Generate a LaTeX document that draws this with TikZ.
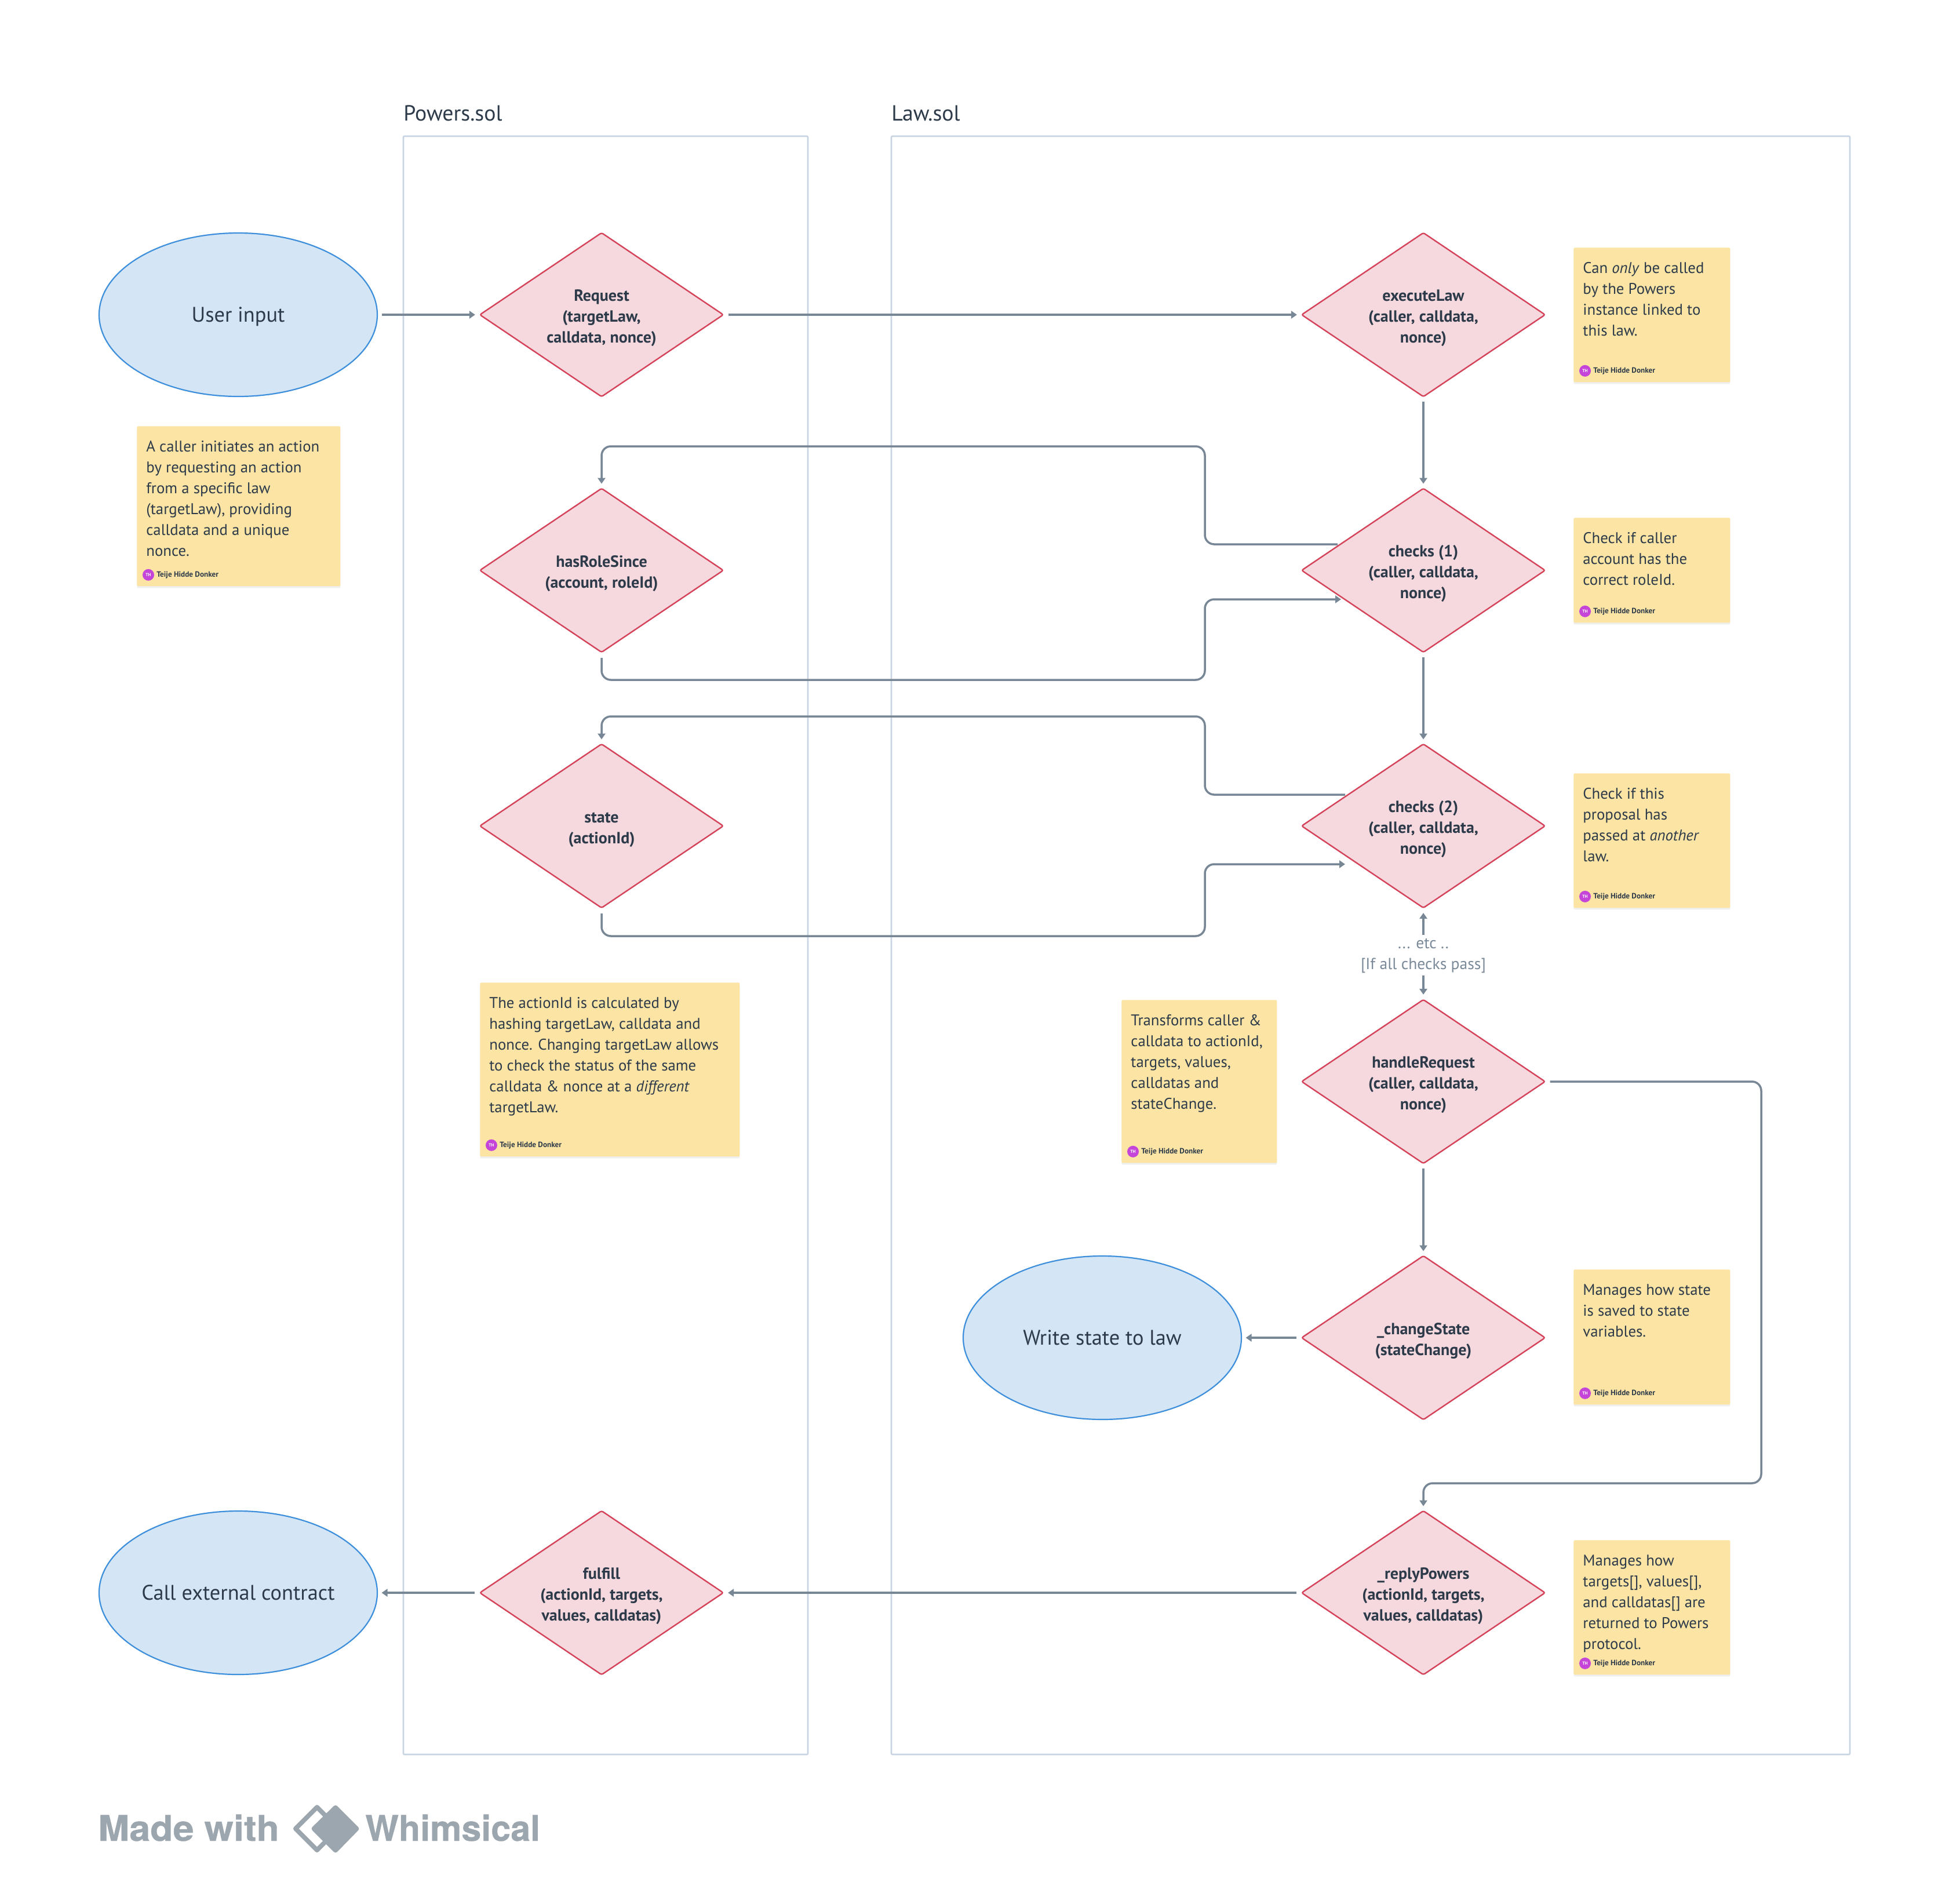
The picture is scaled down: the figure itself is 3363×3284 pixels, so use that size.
\documentclass[tikz,border=0pt]{standalone}
\usepackage{fontspec}
\setmainfont{PT Sans}
\usetikzlibrary{shapes.geometric,arrows.meta,calc,shadows}
\definecolor{ink}{HTML}{2C3A49}
\definecolor{link}{HTML}{788796}
\definecolor{lane}{HTML}{C9D5E2}
\definecolor{dfill}{HTML}{F6D9DE}
\definecolor{dline}{HTML}{D4435A}
\definecolor{efill}{HTML}{D4E5F6}
\definecolor{eline}{HTML}{3D8FDC}
\definecolor{nfill}{HTML}{FCE4A4}
\definecolor{avatar}{HTML}{C445D8}
\definecolor{brand}{HTML}{9CA6AE}
\definecolor{muted}{HTML}{7B8A99}
\newfontfamily\brandfont{TeX Gyre Heros}[BoldFeatures={FakeBold=0.6}]
\newcommand{\dtop}{\rule{0pt}{15.5pt}}
\tikzset{
  dia/.style={diamond,aspect=1.477,draw=dline,fill=dfill,line width=1.2pt,rounded corners=1.5pt,
    minimum width=210.5pt,minimum height=141.8pt,inner sep=0pt,align=center,text=ink,
    font=\fontsize{14}{18}\selectfont\bfseries},
  ell/.style={ellipse,draw=eline,fill=efill,line width=1.1pt,minimum width=240pt,minimum height=141pt,
    inner sep=0pt,text=ink,font=\fontsize{18.2}{20}\selectfont,text height=16pt,text depth=4pt},
  lanebox/.style={draw=lane,line width=1.3pt,rounded corners=1pt},
  lanelabel/.style={anchor=west,text=ink,font=\fontsize{18.9}{20}\selectfont,inner sep=0pt},
  notebox/.style={fill=nfill,anchor=north west,inner sep=0pt,rounded corners=1pt,
    drop shadow={opacity=.12,shadow xshift=0pt,shadow yshift=-1.5pt}},
  notetext/.style={anchor=north west,align=left,inner sep=0pt,text=ink,font=\fontsize{13.4}{18}\selectfont},
  avatardot/.style={circle,fill=avatar,text=white,minimum size=10pt,inner sep=0pt,font=\fontsize{3.8}{4}\selectfont\bfseries},
  authorname/.style={anchor=west,inner sep=0pt,text=ink,font=\fontsize{6.6}{8}\selectfont\bfseries},
  conn/.style={draw=link,line width=1.75pt,rounded corners=8pt,-{Triangle[length=5pt,width=6.5pt]}},
  gapped/.style={shorten <=3.5pt,shorten >=3.2pt},
  flowlabel/.style={align=center,inner sep=0pt,text=muted,font=\fontsize{13.8}{18}\selectfont},
  brandtext/.style={anchor=base west,inner sep=0pt,text=brand,font=\brandfont\fontsize{30.5}{34}\selectfont\bfseries}
}
% name, left, top, right, bottom, text
\newcommand{\sticky}[6]{%
  \node[notebox,minimum width={(#4-#2)*0.5pt},minimum height={(#5-#3)*0.5pt}] (#1) at (#2,#3) {};
  \node[notetext] (#1-text) at ($(#1.north west)+(16,25)$) {#6};
  \node[avatardot] (#1-dot) at ($(#1.south west)+(20,-20)$) {TH};
  \node[authorname] (#1-name) at ($(#1.south west)+(34,-20)$) {Teije Hidde Donker};
}
\begin{document}
\begin{tikzpicture}[x=0.5pt,y=-0.5pt]
\useasboundingbox (0,0) rectangle (3363,3284);
\fill[white] (0,0) rectangle (3363,3284);
% swimlanes
\draw[lanebox] (696,235) rectangle (1394,3027);
\draw[lanebox] (1538,235) rectangle (3192,3027);
\node[lanelabel] (powers) at (696,195) {Powers.sol};
\node[lanelabel] (law) at (1538,195) {Law.sol};
% ellipses
\node[ell] (user) at (411,543) {User input};
\node[ell] (write) at (1902,2308) {Write state to law};
\node[ell] (call) at (411,2748) {Call external contract};
% diamonds
\node[dia] (request) at (1038,543) {\dtop Request\\(targetLaw,\\calldata, nonce)};
\node[dia] (role) at (1038,984) {\dtop hasRoleSince\\(account, roleId)};
\node[dia] (state) at (1038,1425) {\dtop state\\(actionId)};
\node[dia] (fulfill) at (1038,2748) {\dtop fulfill\\(actionId, targets,\\values, calldatas)};
\node[dia] (execute) at (2456,543) {\dtop executeLaw\\(caller, calldata,\\nonce)};
\node[dia] (checksa) at (2456,984) {\dtop checks (1)\\(caller, calldata,\\nonce)};
\node[dia] (checksb) at (2456,1425) {\dtop checks (2)\\(caller, calldata,\\nonce)};
\node[dia] (handle) at (2456,1866) {\dtop handleRequest\\(caller, calldata,\\nonce)};
\node[dia] (change) at (2456,2308) {\dtop\_changeState\\(stateChange)};
\node[dia] (reply) at (2456,2748) {\dtop\_replyPowers\\(actionId, targets,\\values, calldatas)};
% notes
\sticky{n1}{236}{735}{587}{1011}{A caller initiates an action\\by requesting an action\\from a specific law\\(targetLaw), providing\\calldata and a unique\\nonce.}
\sticky{n2}{2715}{427}{2985}{659}{Can \emph{only} be called\\by the Powers\\instance linked to\\this law.}
\sticky{n3}{2715}{893}{2985}{1074}{Check if caller\\account has the\\correct roleId.}
\sticky{n4}{2715}{1334}{2985}{1566}{Check if this\\proposal has\\passed at \emph{another}\\law.}
\sticky{n5}{1935}{1725}{2203}{2006}{Transforms caller \&\\calldata to actionId,\\targets, values,\\calldatas and\\stateChange.}
\sticky{n6}{828}{1695}{1276}{1995}{The actionId is calculated by\\hashing targetLaw, calldata and\\nonce. Changing targetLaw allows\\to check the status of the same\\calldata \& nonce at a \emph{different}\\targetLaw.}
\sticky{n7}{2715}{2190}{2985}{2423}{Manages how state\\is saved to state\\variables.}
\sticky{n8}{2715}{2657}{2985}{2889}{Manages how\\targets[], values[],\\and calldatas[] are\\returned to Powers\\protocol.}
% label between checks (2) and handleRequest
\node[flowlabel] (etc) at (2456,1649) {... etc ..\\{[}If all checks pass{]}};
% connectors
\draw[conn,gapped] (user.east) -- (request.west);
\draw[conn,gapped] (request.east) -- (execute.west);
\draw[conn,gapped] (execute.south) -- (checksa.north);
\draw[conn,gapped] (checksa.south) -- (checksb.north);
\draw[conn,gapped] (handle.south) -- (change.north);
\draw[conn,gapped] (change.west) -- (write.east);
\draw[conn,gapped] (reply.west) -- (fulfill.east);
\draw[conn,gapped] (fulfill.west) -- (call.east);
\draw[conn] ($(checksa)+(-148,-45)$) -- (2079,939) -- (2079,770) -- (role.north |- 0,770) -- ([yshift=3.2pt]role.north);
\draw[conn] ([yshift=-4pt]role.south) -- (role.south |- 0,1173) -- (2079,1173) -- (2079,1034) -- ($(checksa)+(-142,50)$);
\draw[conn] ($(checksb)+(-135,-54)$) -- (2079,1371) -- (2079,1236) -- (state.north |- 0,1236) -- ([yshift=3.2pt]state.north);
\draw[conn] ([yshift=-4pt]state.south) -- (state.south |- 0,1615) -- (2079,1615) -- (2079,1491) -- ($(checksb)+(-135,66)$);
\draw[conn,shorten <=3pt] (etc.north) -- ([yshift=-3.5pt]checksb.south);
\draw[conn,shorten <=2pt,shorten >=3.5pt] (etc.south) -- (handle.north);
\draw[conn] ([xshift=3.5pt]handle.east) -- (3039,1866) -- (3039,2559) -- (reply.north |- 0,2559) -- ([yshift=3.2pt]reply.north);
% footer
\node[brandtext] (made) at (169,3176) {\addfontfeature{FakeStretch=1.06}Made with};
\node[brandtext] (whim) at (630,3176) {Whimsical};
\draw[brand,line width=4pt,line join=round] (510,3155) -- (547,3118) -- (584,3155) -- (547,3192) -- cycle;
\fill[brand,rounded corners=2pt] (536,3155) -- (579,3113) -- (621,3155) -- (579,3198) -- cycle;
\end{tikzpicture}
\end{document}
